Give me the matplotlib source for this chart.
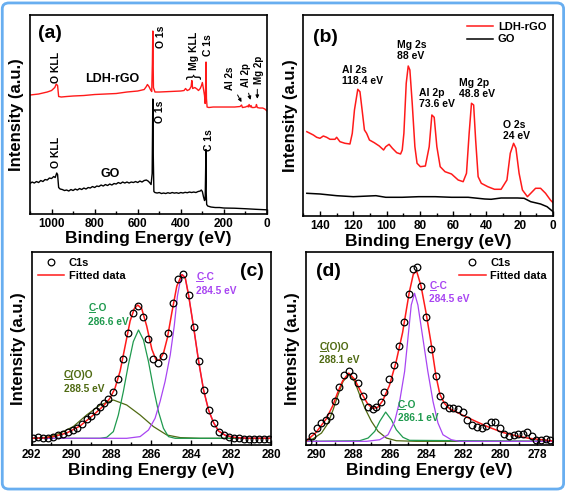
import matplotlib
matplotlib.use("Agg")
import matplotlib.pyplot as plt
from matplotlib.lines import Line2D
from matplotlib.patches import FancyBboxPatch
from matplotlib.ticker import MultipleLocator

plt.rcParams['font.family'] = ['Liberation Sans', 'DejaVu Sans']
plt.rcParams['font.weight'] = 'bold'

RED = '#ff1a1a'
GREEN = '#1f9a4e'
OLIVE = '#4f6a12'
PURPLE = '#a845f2'

# ---- (a) survey spectra ----
surv_E_ldh = [1100, 1060, 1020, 1000, 985, 978, 972, 967, 955, 930, 900, 850, 800, 750, 700,
              650, 600, 570, 560, 555, 548, 540, 535, 532, 530, 527, 520, 500, 450, 400, 385,
              378, 370, 360, 352, 349, 345, 335, 325, 318, 310, 304, 300, 296, 290, 287, 285,
              283, 281, 278, 270, 250, 200, 150, 125, 118, 114, 100, 90, 87, 83, 78, 74, 70,
              60, 52, 49, 45, 35, 20, 10, 0]
surv_I_ldh = [118.5, 119.5, 121.5, 123, 126, 129.5, 128, 117, 116.5, 117, 117.5, 118, 119, 119.5, 120,
              121.5, 122.5, 124, 127, 129, 127, 123.5, 122, 150, 182.5, 126, 121.5, 121.5, 122, 122.5, 123,
              125, 123, 124, 127, 133, 125, 126, 124.5, 123, 125, 128, 131, 126, 118, 110, 125,
              151.5, 115, 106.5, 106, 106.5, 106.5, 106.5, 107, 108.5, 106, 106.5, 107.5, 106.5, 109, 106.5, 108, 106,
              106, 106.5, 109, 106, 105.5, 105.5, 104.5, 102.5]

surv_E_go = [1100, 1090, 1080, 1070, 1060, 1050, 1040, 1030, 1020, 1010, 1000, 990, 983, 976, 972,
             967, 960, 950, 940, 930, 920, 910, 900, 890, 880, 870, 860, 850, 840, 830, 820,
             810, 800, 790, 780, 770, 760, 750, 740, 730, 720, 710, 700, 690, 680, 670, 660,
             650, 640, 630, 620, 610, 600, 590, 580, 570, 560, 552, 545, 538, 533, 530, 528,
             525, 520, 510, 500, 490, 480, 470, 460, 450, 440, 430, 420, 410, 400, 390, 380,
             370, 360, 350, 340, 330, 320, 310, 305, 300, 295, 290, 287, 285, 283.5, 282, 280,
             275, 260, 240, 220, 200, 150, 100, 50, 0]
surv_I_go = [30, 31.5, 30.5, 32, 31, 33, 32, 34, 33.5, 35.5, 35, 37, 36, 40.5, 39,
             26, 24.5, 24, 23, 23.5, 22.5, 24, 23, 24.5, 23.5, 25, 24, 25.5, 24.5, 26, 25.5,
             27, 26, 27.5, 27, 28.5, 27.5, 29, 28, 29.5, 28.5, 30, 29.5, 31, 30, 31.5, 30.5,
             31.5, 30.5, 31.5, 31, 32, 31, 32.5, 31.5, 33, 33.5, 32.5, 31, 29, 40, 114.5, 60,
             22, 21, 20.5, 21, 20, 20.5, 20, 20.8, 20.2, 21, 20.4, 20.8, 20.2, 21, 20.5, 21.2,
             20.8, 21.5, 21, 21.5, 21, 22, 22.5, 23.5, 22, 17, 13, 14, 40, 64, 20, 9,
             7.5, 6.5, 6, 6, 5.5, 5.3, 4.8, 4.2, 3.7]

# ---- (b) low binding energy region ----
low_E_ldh = [147.9, 146, 144, 142, 140, 138, 136, 134, 131, 130, 128, 125, 122, 120.6, 119.3,
             117.3, 116, 114.7, 113.3, 112, 110.3, 107.4, 104.4, 101.8, 100.5, 98.5, 96.5, 93.9,
             91.6, 90.6, 89.6, 88.2, 87, 86, 84.6, 83, 81.7, 79.7, 76.7, 74.4, 72.8, 71.4, 69.8,
             67.8, 64.9, 61, 57, 54, 52, 50.4, 49, 47.7, 46.5, 45, 43.1, 39.2, 35.2, 31.2, 27.7,
             25.7, 23.7, 22.3, 20.4, 18.4, 15.4, 13.4, 10.5, 7.5, 4.5, 1.6, 0]
low_I_ldh = [84.3, 82.7, 81, 78.7, 77.7, 80, 78.7, 76.7, 76.7, 78.7, 74.3, 72.7, 72, 82.7, 106,
             126.7, 124.3, 106, 86, 82.7, 76, 73.3, 70, 66, 69.3, 71.7, 67.7, 63.3,
             62, 66, 82.7, 132.7, 150, 146, 112.7, 69.3, 52.7, 49.3, 50, 69.3, 101, 98.7, 69.3,
             49.3, 44.3, 42, 36, 34.3, 42.7, 82.7, 112.7, 111, 76, 39.3, 32.7, 29.3, 26.7, 26.7, 36,
             62.7, 72.7, 67.7, 42.7, 26, 19.3, 22.7, 27.7, 27.7, 22.7, 16, 13.3]
low_E_go = [147.9, 140, 130, 120, 106.4, 100.5, 90.6, 80.7, 70.8, 61, 51, 41.1, 37.2, 31.2,
            21.4, 17.4, 13.4, 7.5, 3.6, 0]
low_I_go = [22.7, 22, 20.3, 19.3, 20.3, 18.7, 18.7, 19.3, 19.3, 18.7, 18.7, 17, 16.7, 18,
            18, 17.7, 14.3, 12, 9.3, 4.3]

# ---- (c) C1s of GO ----
c_E = [291.92, 291.67, 291.41, 291.16, 290.91, 290.66, 290.41, 290.16, 289.94, 289.71, 289.49,
       289.24, 289.02, 288.79, 288.57, 288.37, 288.15, 287.90, 287.65, 287.40, 287.18, 286.93,
       286.68, 286.39, 286.14, 285.89, 285.64, 285.39, 285.14, 284.89, 284.64, 284.42, 284.13,
       283.88, 283.63, 283.38, 283.13, 282.88, 282.63, 282.38, 282.13, 281.87, 281.62, 281.37,
       281.12, 280.87, 280.62, 280.37, 280.12]
c_I = [7.3, 8, 7.3, 7.3, 8, 10, 11.3, 13.3, 15.3, 17.7, 21, 26, 29.3, 34.7, 38.3, 42.7, 46,
       53.3, 66, 86.7, 112, 132.7, 139.3, 128.3, 106.7, 86.7, 82.7, 89.3, 112, 142, 166.7, 171,
       150, 118.3, 84.3, 55.3, 35.3, 22.7, 13.3, 10, 8.3, 7.3, 7, 6.7, 6.7, 6.7, 6.7, 6.7, 6.7]
c_fit_E = [292, 291.41, 290.91, 290.24, 289.57, 288.90, 288.40, 288.07, 287.82, 287.56, 287.31,
           287.06, 286.85, 286.68, 286.48, 286.23, 285.97, 285.76, 285.59, 285.39, 285.19, 284.97,
           284.72, 284.47, 284.30, 284.13, 283.88, 283.63, 283.38, 283.13, 282.88, 282.63, 282.29,
           281.87, 281.21, 280]
c_fit_I = [7, 7.3, 8.7, 12.3, 19.3, 30.3, 39.3, 47, 57, 74.3, 99.3, 124.3, 136.7, 140.3, 136.7,
           119.3, 96, 85.3, 85, 92, 107.7, 132.7, 159.3, 170.7, 167.7, 150, 118.3, 84.3, 55.3,
           35.3, 22.7, 14.3, 10, 8, 7, 7]
c_cc_E = [292, 288.57, 287.23, 286.56, 286.14, 285.81, 285.56, 285.31, 285.05, 284.85, 284.69,
          284.55, 284.44, 284.30, 284.13, 283.88, 283.63, 283.38, 283.13, 282.88, 282.63, 282.29,
          281.87, 281.21, 280]
c_cc_I = [7, 7, 7, 8.7, 15.3, 27, 43.7, 63.7, 90.3, 119.3, 149.3, 164.3, 170.7, 167.7, 150,
          118.3, 84.3, 55.3, 35.3, 22.7, 14.3, 10, 8, 7, 7]
c_co_E = [292, 288.57, 288.23, 287.90, 287.65, 287.40, 287.15, 286.90, 286.64, 286.39, 286.14,
          285.89, 285.64, 285.39, 285.14, 284.80, 280]
c_co_I = [7, 7, 8, 13.7, 30.3, 53.7, 80.3, 103.7, 115.3, 105.3, 83.7, 57, 33.7, 17, 8.7, 7, 7]
c_coo_E = [292, 291.25, 290.58, 289.91, 289.24, 288.57, 287.90, 287.23, 286.56, 285.89, 285.22,
           284.55, 283.55, 280]
c_coo_I = [7, 8, 12, 18.7, 30.3, 40.3, 45.3, 40.3, 30.3, 18.7, 10.3, 7.7, 7, 7]

# ---- (d) C1s of LDH-rGO ----
d_E = [290.45, 290.22, 289.96, 289.73, 289.49, 289.24, 288.97, 288.74, 288.47, 288.23, 287.98,
       287.74, 287.47, 287.20, 286.93, 286.75, 286.48, 286.30, 286.03, 285.76, 285.49, 285.25,
       284.98, 284.77, 284.53, 284.31, 284.04, 283.77, 283.50, 283.29, 283.05, 282.78, 282.55,
       282.29, 282.02, 281.79, 281.52, 281.25, 281.01, 280.76, 280.52, 280.29, 280.04, 279.80,
       279.53, 279.26, 279.03, 278.77, 278.54, 278.30, 278.05, 277.82, 277.55, 277.31]
d_I = [2.7, 8.7, 16.7, 22, 25.3, 29.3, 44.3, 57.7, 70, 74.3, 68.7, 62, 49.3, 37.7, 36, 37.7,
       43.3, 53.3, 66, 80, 99.3, 123.3, 151, 176, 178.3, 159.3, 128.7, 96, 69.3, 49.3, 40, 37,
       36.7, 36, 32.7, 25.3, 20, 17.7, 17, 19.3, 22.7, 22.7, 16.7, 11, 8.7, 10, 11, 11, 12.7,
       9.3, 5.3, 5, 6, 5.3]
d_fit_E = [290.52, 290.0, 289.46, 289.10, 288.83, 288.56, 288.23, 287.92, 287.56, 287.20, 286.93,
           286.66, 286.39, 286.03, 285.67, 285.31, 284.95, 284.73, 284.55, 284.31, 284.04, 283.77,
           283.50, 283.29, 283.05, 282.78, 282.06, 281.34, 280.61, 279.89, 279.17, 278.45, 277.22]
d_fit_I = [4.3, 12.7, 26, 39.3, 52.7, 64.3, 72, 66, 52.7, 41, 36.7, 37.7, 44.3, 59.3, 82.7,
           112.7, 152.7, 171, 174.3, 159.3, 132.7, 102.7, 69.3, 51, 42, 36.7, 30, 23.7, 17.7,
           12.7, 9.3, 6.7, 4.3]
d_cc_E = [290.45, 287.27, 286.55, 286.10, 285.74, 285.47, 285.20, 285.02, 284.84, 284.66, 284.48,
          284.21, 283.94, 283.66, 283.39, 283.12, 282.67, 282.22, 277.22]
d_cc_I = [3.7, 3.7, 5.3, 10.3, 23.7, 43.7, 73.7, 107, 140.3, 152, 140.3, 107, 73.7, 43.7, 22,
          10.3, 5.3, 3.7, 3.7]
d_co_E = [290.45, 287.64, 287.18, 286.82, 286.55, 286.23, 285.92, 285.65, 285.29, 284.93, 277.22]
d_co_I = [3.7, 4.3, 7, 13.7, 23.7, 33, 25.3, 15.3, 7.7, 4.7, 3.7]
d_coo_E = [290.52, 290.16, 289.71, 289.35, 289.08, 288.81, 288.54, 288.21, 287.91, 287.64, 287.36,
           287.00, 286.64, 286.19, 285.65, 284.58, 277.22]
d_coo_I = [4.3, 6.3, 12, 22, 35.3, 50.3, 63.7, 71, 63.7, 50.3, 37, 23.7, 13.7, 7, 4.3, 3.7, 3.7]

fig = plt.figure(figsize=(5.67, 4.92), dpi=100)
ax_a = fig.add_axes([0.0529, 0.566, 0.418, 0.4035])
ax_b = fig.add_axes([0.535, 0.561, 0.4404, 0.4085])
ax_c = fig.add_axes([0.0556, 0.0949, 0.4224, 0.3935])
ax_d = fig.add_axes([0.5397, 0.0955, 0.4356, 0.393])


def style(ax, major, minor):
    for s in ax.spines.values():
        s.set_linewidth(1.2)
    ax.xaxis.set_major_locator(MultipleLocator(major))
    ax.xaxis.set_minor_locator(MultipleLocator(minor))
    ax.tick_params(axis='x', which='both', direction='in', labelsize=8.5, pad=3, width=1)
    ax.tick_params(axis='x', which='major', length=3.5)
    ax.tick_params(axis='x', which='minor', length=2.5)
    ax.set_yticks([])
    for lab in ax.get_xticklabels():
        lab.set_fontweight('bold')
    ax.set_xlabel('Binding Energy (eV)', fontsize=12.5, fontweight='bold', labelpad=1)
    ax.set_ylabel('Intensity (a.u.)', fontsize=12, fontweight='bold', labelpad=4)


underlined = []


def comp_label(ax, x, y, head, value, color):
    kw = dict(fontsize=7.3, fontweight='bold', ha='left', va='top', color=color)
    ax.text(x, y, head, **kw)
    ax.annotate(value, xy=(x, y), xytext=(0, -9.5), textcoords='offset points', **kw)
    probe = ax.text(x, y, 'C', alpha=0, **kw)
    underlined.append((probe, color))


# (a)
ax_a.plot(surv_E_ldh, surv_I_ldh, color=RED, lw=1)
ax_a.plot(surv_E_go, surv_I_go, color='black', lw=1)
ax_a.set_xlim(1100, 0)
ax_a.set_ylim(0, 198.5)
style(ax_a, 200, 100)
ax_a.text(0.034, 0.95, '(a)', transform=ax_a.transAxes, fontsize=14, fontweight='bold', va='top')
rot = dict(rotation=90, ha='center', va='bottom', fontweight='bold')
ax_a.text(980, 131, 'O KLL', fontsize=7.5, **rot)
ax_a.text(490, 166, 'O 1s', fontsize=7.5, **rot)
ax_a.text(338, 144, 'Mg KLL', fontsize=7.5, **rot)
ax_a.text(338, 135, '}', rotation=90, ha='center', va='bottom', fontsize=12, fontweight='normal')
ax_a.text(272, 158, 'C 1s', fontsize=7.5, **rot)
ax_a.text(718, 135, 'LDH-rGO', fontsize=9, fontweight='bold', ha='center', va='center')
ax_a.text(170, 124, 'Al 2s', fontsize=7, **rot)
ax_a.text(97, 127, 'Al 2p', fontsize=7, **rot)
ax_a.text(39, 130, 'Mg 2p', fontsize=7, **rot)
arrow = dict(arrowstyle='-|>', color='black', lw=0.7, mutation_scale=5)
ax_a.annotate('', xy=(112, 109), xytext=(143, 121), arrowprops=arrow)
ax_a.annotate('', xy=(73, 111), xytext=(89, 123), arrowprops=arrow)
ax_a.annotate('', xy=(45, 112), xytext=(45, 127), arrowprops=arrow)
ax_a.text(977, 46, 'O KLL', fontsize=7.5, **rot)
ax_a.text(497, 91, 'O 1s', fontsize=7.5, **rot)
ax_a.text(268, 63, 'C 1s', fontsize=7.5, **rot)
ax_a.text(730, 40, 'GO', fontsize=9, fontweight='bold', ha='center', va='center')

# (b)
ax_b.plot(low_E_ldh, low_I_ldh, color=RED, lw=1.1, label='LDH-rGO')
ax_b.plot(low_E_go, low_I_go, color='black', lw=1.1, label='GO')
ax_b.set_xlim(150, 0)
ax_b.set_ylim(0, 201)
style(ax_b, 20, 10)
ax_b.text(0.04, 0.93, '(b)', transform=ax_b.transAxes, fontsize=14, fontweight='bold', va='top')
ax_b.legend(loc='upper right', frameon=False, handlelength=2.4,
            borderaxespad=0.2, labelspacing=0.25, handletextpad=0.4,
            prop={'weight': 'bold', 'size': 8})
lab_b = dict(fontsize=7.5, fontweight='bold', ha='left', va='top', linespacing=1.15)
ax_b.text(127, 151, 'Al 2s\n118.4 eV', **lab_b)
ax_b.text(93.5, 176, 'Mg 2s\n88 eV', **lab_b)
ax_b.text(80.7, 128, 'Al 2p\n73.6 eV', **lab_b)
ax_b.text(56.6, 138, 'Mg 2p\n48.8 eV', **lab_b)
ax_b.text(30.3, 96, 'O 2s\n24 eV', **lab_b)

circ = dict(ls='none', marker='o', mfc='none', mec='black', ms=4.8, mew=0.9)

# (c)
ax_c.plot(c_coo_E, c_coo_I, color=OLIVE, lw=0.9)
ax_c.plot(c_co_E, c_co_I, color=GREEN, lw=0.9)
ax_c.plot(c_cc_E, c_cc_I, color=PURPLE, lw=0.9)
ax_c.plot(c_fit_E, c_fit_I, color=RED, lw=1.1)
ax_c.plot(c_E, c_I, **circ)
ax_c.set_xlim(292, 280)
ax_c.set_ylim(0, 193.6)
style(ax_c, 2, 1)
ax_c.text(0.97, 0.94, '(c)', transform=ax_c.transAxes, fontsize=14, fontweight='bold',
          va='top', ha='right')
comp_label(ax_c, 289.15, 142, 'C-O', '286.6 eV', GREEN)
comp_label(ax_c, 290.38, 75, 'C(O)O', '288.5 eV', OLIVE)
comp_label(ax_c, 283.75, 173, 'C-C', '284.5 eV', PURPLE)
h_c = [Line2D([], [], **circ), Line2D([], [], color=RED, lw=1.1)]
ax_c.legend(h_c, ['C1s', 'Fitted data'], loc='upper left', frameon=False,
            prop={'weight': 'bold', 'size': 8}, handlelength=2.4, borderaxespad=0.15,
            labelspacing=0.3, handletextpad=0.4)

# (d)
ax_d.plot(d_coo_E, d_coo_I, color=OLIVE, lw=0.9)
ax_d.plot(d_co_E, d_co_I, color=GREEN, lw=0.9)
ax_d.plot(d_cc_E, d_cc_I, color=PURPLE, lw=0.9)
ax_d.plot(d_fit_E, d_fit_I, color=RED, lw=1.1)
ax_d.plot(d_E, d_I, **circ)
ax_d.set_xlim(290.55, 277.15)
ax_d.set_ylim(0, 193.7)
style(ax_d, 2, 1)
ax_d.text(0.04, 0.94, '(d)', transform=ax_d.transAxes, fontsize=14, fontweight='bold', va='top')
comp_label(ax_d, 283.86, 164, 'C-C', '284.5 eV', PURPLE)
comp_label(ax_d, 289.82, 103, 'C(O)O', '288.1 eV', OLIVE)
comp_label(ax_d, 285.58, 45, 'C-O', '286.1 eV', GREEN)
h_d = [Line2D([], [], **circ), Line2D([], [], color=RED, lw=1.1)]
ax_d.legend(h_d, ['C1s', 'Fitted data'], loc='upper right', frameon=False,
            prop={'weight': 'bold', 'size': 8}, handlelength=2.4, borderaxespad=0.15,
            labelspacing=0.3, handletextpad=0.4)

# underline the "C" of each component label
renderer = fig.canvas.get_renderer()
inv = fig.transFigure.inverted()
for probe, color in underlined:
    bb = probe.get_window_extent(renderer)
    (fx0, fy), (fx1, _) = inv.transform([(bb.x0 + 0.3, bb.y0 + 1.2), (bb.x1 - 0.3, bb.y0)])
    fig.add_artist(Line2D([fx0, fx1], [fy, fy], transform=fig.transFigure, color=color, lw=0.7))

border = FancyBboxPatch((0.004, 0.006), 0.99, 0.988, boxstyle='round,pad=0,rounding_size=0.012',
                        transform=fig.transFigure, fill=False, ec='#68aef0', lw=2)
fig.patches.append(border)

fig.savefig('out.png', dpi=100)
